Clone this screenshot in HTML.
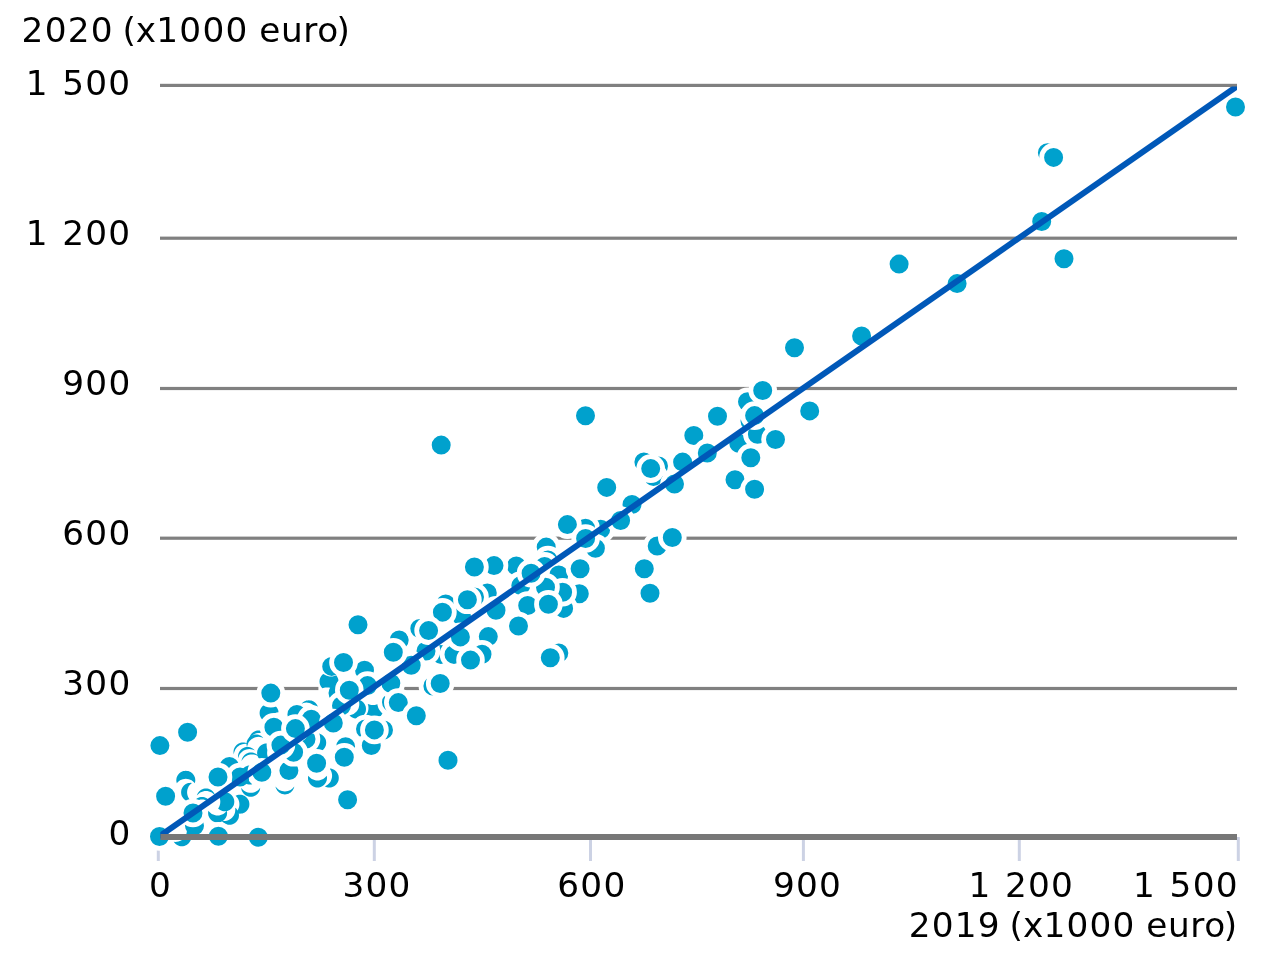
<!DOCTYPE html>
<html lang="nl"><head><meta charset="utf-8"><title>2020 vs 2019 (x1000 euro)</title>
<style>
html,body{margin:0;padding:0;background:#fff;}
body{width:1263px;height:955px;overflow:hidden;}
svg{display:block;}
text{font-family:"DejaVu Sans","Liberation Sans",sans-serif;font-size:34.3px;fill:#000;}
.n{letter-spacing:1.23px;word-spacing:1.4px;}
.w{letter-spacing:0.6px;}
.d circle{fill:#00A1CD;stroke:#fff;stroke-width:4.8;}
.d circle.e{fill:#fff;stroke:none;}
.d circle.r{fill:none;}
.d path{fill:#00A1CD;}
</style></head><body>
<svg width="1263" height="955" viewBox="0 0 1263 955">
<rect width="1263" height="955" fill="#fff"/>
<rect x="160" y="83.8" width="1077.0" height="3.2" fill="#808080"/>
<rect x="160" y="236.6" width="1077.0" height="3.2" fill="#808080"/>
<rect x="160" y="386.9" width="1077.0" height="3.2" fill="#808080"/>
<rect x="160" y="536.6" width="1077.0" height="3.2" fill="#808080"/>
<rect x="160" y="686.9" width="158.4" height="3.2" fill="#808080"/>
<rect x="346" y="686.9" width="891.0" height="3.2" fill="#808080"/>
<rect x="156.8" y="837" width="3" height="24" fill="#CCD2E4"/>
<rect x="372.8" y="837" width="3" height="24" fill="#CCD2E4"/>
<rect x="589.0" y="837" width="3" height="24" fill="#CCD2E4"/>
<rect x="801.9" y="837" width="3" height="24" fill="#CCD2E4"/>
<rect x="1017.8" y="837" width="3" height="24" fill="#CCD2E4"/>
<rect x="1236.8" y="837" width="3" height="24" fill="#CCD2E4"/>
<g class="d">
<path d="M195.2,779.1 195.0,777.8 194.6,776.7 194.0,775.5 193.3,774.5 192.5,773.6 191.6,772.8 190.6,772.1 189.4,771.5 188.3,771.1 187.0,770.9 185.8,770.8 184.6,770.9 183.3,771.1 182.2,771.5 181.1,772.1 180.0,772.8 179.1,773.6 178.3,774.5 177.6,775.5 177.0,776.7 176.6,777.8 176.4,779.1 176.3,780.3 176.4,781.5 176.8,783.2 177.7,782.2 178.8,781.2 180.1,780.3 181.4,779.7 182.8,779.2 184.3,778.9 185.8,778.8 187.3,778.9 188.8,779.2 190.2,779.7 191.6,780.3 192.8,781.2 193.9,782.2 194.8,783.2 195.2,781.5 195.3,780.3Z"/><path d="M192.0,782.9 190.6,782.8 189.4,782.9 188.1,783.1 187.0,783.5 185.8,784.1 184.8,784.8 183.9,785.6 183.1,786.5 182.4,787.5 181.8,788.7 181.4,789.8 181.2,791.1 181.1,792.3 181.2,793.5 181.4,794.8 181.8,795.9 182.4,797.0 183.1,798.1 183.9,799.0 184.8,799.8 185.8,800.5 187.0,801.1 188.1,801.5 189.4,801.7 190.6,801.8 192.0,801.7 190.5,800.4 189.5,799.3 188.6,798.0 188.0,796.7 187.5,795.3 187.2,793.8 187.1,792.3 187.2,790.8 187.5,789.3 188.0,787.9 188.6,786.5 189.5,785.3 190.5,784.2Z"/><path d="M249.3,803.0 249.1,801.7 248.7,800.6 248.1,799.5 247.4,798.4 246.6,797.5 245.7,796.7 244.7,796.0 243.5,795.4 242.4,795.0 241.1,794.8 239.9,794.7 238.7,794.8 237.4,795.0 235.6,795.7 237.0,797.2 237.9,798.5 238.5,799.8 239.0,801.2 239.3,802.7 239.4,804.2 239.3,805.7 239.0,807.2 238.5,808.6 237.9,810.0 237.0,811.2 235.6,812.7 237.4,813.4 238.7,813.6 239.9,813.7 241.1,813.6 242.4,813.4 243.5,813.0 244.7,812.4 245.7,811.7 246.6,810.9 247.4,810.0 248.1,809.0 248.7,807.8 249.1,806.7 249.3,805.4 249.4,804.2Z"/><path d="M238.9,814.1 238.7,812.8 238.3,811.7 237.7,810.5 237.0,809.5 236.2,808.6 235.2,807.7 235.3,809.6 235.2,811.1 235.0,812.6 234.5,814.0 233.8,815.4 233.0,816.6 232.0,817.8 230.8,818.8 229.6,819.6 228.2,820.3 226.8,820.8 225.3,821.0 223.8,821.1 221.9,821.0 222.8,822.0 223.7,822.8 224.8,823.5 225.9,824.1 227.0,824.5 228.3,824.7 229.5,824.8 230.7,824.7 232.0,824.5 233.1,824.1 234.2,823.5 235.3,822.8 236.2,822.0 237.0,821.1 237.7,820.0 238.3,818.9 238.7,817.8 238.9,816.5 239.0,815.3Z"/><path d="M227.0,811.8 226.8,810.8 225.7,812.1 224.6,813.1 223.3,814.0 222.0,814.6 220.6,815.1 219.1,815.4 217.6,815.5 216.1,815.4 214.6,815.1 213.2,814.6 211.8,814.0 210.6,813.1 209.5,812.1 208.4,810.8 208.2,811.8 208.1,813.0 208.2,814.2 208.4,815.5 208.8,816.6 209.4,817.8 210.1,818.8 210.9,819.7 211.8,820.5 212.8,821.2 214.0,821.8 215.1,822.2 216.4,822.4 217.6,822.5 218.8,822.4 220.1,822.2 221.2,821.8 222.3,821.2 223.4,820.5 224.3,819.7 225.1,818.8 225.8,817.8 226.4,816.6 226.8,815.5 227.0,814.2 227.1,813.0Z"/><path d="M234.2,800.6 234.0,799.3 233.6,798.2 233.0,797.0 232.3,796.0 231.5,795.1 230.6,794.3 229.6,793.6 228.4,793.0 227.3,792.6 226.0,792.4 224.8,792.3 223.6,792.4 222.3,792.6 221.2,793.0 220.1,793.6 219.0,794.3 218.1,795.1 218.8,796.0 219.4,797.4 219.9,798.8 220.2,800.3 220.3,801.8 220.2,803.3 219.9,804.8 219.4,806.2 218.8,807.5 218.1,808.5 219.0,809.3 220.1,810.0 221.2,810.6 222.3,811.0 223.6,811.2 224.8,811.3 226.0,811.2 227.3,811.0 228.4,810.6 229.6,810.0 230.6,809.3 231.5,808.5 232.3,807.6 233.0,806.5 233.6,805.4 234.0,804.3 234.2,803.0 234.3,801.8Z"/><path d="M215.2,795.5 214.8,794.4 214.2,793.2 213.5,792.2 212.7,791.3 211.8,790.5 210.8,789.8 209.6,789.2 208.5,788.8 207.2,788.6 206.0,788.5 204.8,788.6 203.5,788.8 202.4,789.2 201.2,789.8 200.2,790.5 199.3,791.3 198.5,792.2 197.8,793.2 197.2,794.4 196.8,795.6 197.9,794.4 199.0,793.4 200.2,792.5 201.6,791.9 203.0,791.4 204.5,791.1 206.0,791.0 207.5,791.1 209.0,791.4 210.4,791.9 211.8,792.5 213.0,793.4 214.1,794.4Z"/><path d="M211.2,804.0 210.8,802.9 210.2,801.8 209.5,800.7 208.7,799.8 207.8,799.0 206.8,798.3 205.6,797.7 204.5,797.3 203.2,797.1 202.0,797.0 200.8,797.1 199.5,797.3 198.4,797.7 197.2,798.3 196.2,799.0 195.3,799.8 194.5,800.7 193.8,801.8 193.2,802.9 192.8,804.1 193.9,802.9 195.0,801.9 196.2,801.0 197.6,800.4 199.0,799.9 200.5,799.6 202.0,799.5 203.5,799.6 205.0,799.9 206.4,800.4 207.8,801.0 209.0,801.9 210.1,802.9Z"/><circle cx="194.5" cy="825.7" r="11.9"/><path d="M191.2,835.6 191.0,834.3 190.6,833.2 190.0,832.0 189.3,831.0 188.5,830.1 187.6,829.3 186.8,828.7 186.9,830.4 186.8,831.9 186.5,833.4 186.1,834.8 185.4,836.2 184.6,837.4 183.6,838.6 182.4,839.6 181.2,840.4 179.8,841.1 178.4,841.5 176.9,841.8 175.4,841.9 173.7,841.8 174.3,842.6 175.1,843.5 176.0,844.3 177.1,845.0 178.2,845.6 179.3,846.0 180.6,846.2 181.8,846.3 183.0,846.2 184.3,846.0 185.4,845.6 186.6,845.0 187.6,844.3 188.5,843.5 189.3,842.6 190.0,841.5 190.6,840.4 191.0,839.3 191.2,838.0 191.3,836.8Z"/><circle cx="229.4" cy="766.4" r="11.9"/><circle cx="240.0" cy="777.0" r="11.9"/><path d="M247.8,743.8 246.6,743.2 245.5,742.8 244.2,742.6 243.0,742.5 241.8,742.6 240.5,742.8 239.4,743.2 238.2,743.8 237.2,744.5 236.3,745.3 235.5,746.2 234.8,747.2 234.2,748.4 233.8,749.5 233.6,750.8 233.5,752.0 233.6,753.2 233.8,754.5 233.9,753.8 234.2,752.3 234.7,750.9 235.3,749.5 236.2,748.3 237.2,747.1 238.3,746.2 239.5,745.3 240.9,744.7 242.3,744.2 243.8,743.9 245.3,743.8 246.8,743.9 248.4,744.2Z"/><path d="M254.2,749.8 253.3,749.0 252.2,748.3 251.1,747.7 250.0,747.3 248.7,747.1 247.5,747.0 246.3,747.1 245.0,747.3 243.9,747.7 242.8,748.3 241.7,749.0 240.8,749.8 240.0,750.7 239.3,751.8 238.7,752.9 238.3,754.0 238.1,755.3 238.0,756.5 238.2,758.2 238.8,756.2 239.4,754.8 240.3,753.6 241.3,752.4 242.4,751.5 243.7,750.6 245.0,750.0 246.4,749.5 247.9,749.2 249.4,749.1 250.9,749.2 252.4,749.5 253.8,750.0 254.8,750.4Z"/><path d="M258.8,756.6 257.7,755.3 256.8,754.5 255.8,753.8 254.6,753.2 253.5,752.8 252.2,752.6 251.0,752.5 249.8,752.6 248.5,752.8 247.4,753.2 246.2,753.8 245.2,754.5 244.3,755.3 243.5,756.2 242.8,757.2 242.2,758.4 241.8,759.5 241.6,761.2 242.1,760.1 242.9,758.9 243.9,757.7 245.0,756.7 246.3,755.9 247.6,755.2 249.1,754.8 250.5,754.5 252.0,754.4 253.5,754.5 255.0,754.8 256.4,755.2 257.8,755.9Z"/><path d="M251.2,765.6 250.0,765.5 248.8,765.6 247.5,765.8 246.4,766.2 245.2,766.8 244.2,767.5 243.3,768.3 242.5,769.2 241.8,770.2 241.2,771.4 240.8,772.5 240.6,773.8 240.5,775.0 240.6,776.2 240.8,777.5 241.2,778.6 241.8,779.8 242.5,780.8 243.3,781.7 244.2,782.5 245.2,783.2 246.4,783.8 247.5,784.2 248.8,784.4 250.0,784.5 251.2,784.4 252.2,784.2 250.9,783.1 249.9,782.0 249.0,780.8 248.4,779.4 247.9,778.0 247.6,776.5 247.5,775.0 247.6,773.5 247.9,772.0 248.4,770.6 249.0,769.2 249.9,768.0 250.9,766.9 252.2,765.8Z"/><path d="M241.3,788.5 241.5,789.8 241.9,790.9 242.5,792.0 243.2,793.1 244.0,794.0 244.9,794.8 245.9,795.5 247.1,796.1 248.2,796.5 249.5,796.7 250.7,796.8 251.9,796.7 253.2,796.5 254.3,796.1 255.4,795.5 256.5,794.8 257.4,794.0 258.2,793.1 258.9,792.0 259.5,790.9 259.9,789.8 260.1,788.5 260.2,787.8 258.8,789.4 257.7,790.4 256.4,791.3 255.1,791.9 253.7,792.4 252.2,792.7 250.7,792.8 249.2,792.7 247.7,792.4 246.3,791.9 244.9,791.3 243.7,790.4 242.6,789.4 241.2,787.8Z"/><path d="M326.9,776.8 326.7,775.8 325.6,777.1 324.5,778.1 323.2,779.0 321.9,779.6 320.5,780.1 319.0,780.4 317.5,780.5 316.0,780.4 314.5,780.1 313.1,779.6 311.8,779.0 310.5,778.1 309.4,777.1 308.3,775.8 308.1,776.8 308.0,778.0 308.1,779.2 308.3,780.5 308.7,781.6 309.3,782.8 310.0,783.8 310.8,784.7 311.7,785.5 312.8,786.2 313.9,786.8 315.0,787.2 316.3,787.4 317.5,787.5 318.7,787.4 320.0,787.2 321.1,786.8 322.2,786.2 323.3,785.5 324.2,784.7 325.0,783.8 325.7,782.8 326.3,781.6 326.7,780.5 326.9,779.2 327.0,778.0Z"/><path d="M338.7,776.8 338.5,775.5 338.1,774.4 337.5,773.2 336.8,772.2 336.0,771.3 335.1,770.5 334.1,769.8 332.9,769.2 331.8,768.8 330.5,768.6 329.6,768.5 330.6,769.9 331.2,771.3 331.7,772.7 332.0,774.2 332.1,775.7 332.0,777.2 331.7,778.6 331.2,780.1 330.6,781.4 329.7,782.7 328.7,783.8 327.6,784.8 326.4,785.6 324.8,786.4 325.7,786.8 326.8,787.2 328.1,787.4 329.3,787.5 330.5,787.4 331.8,787.2 332.9,786.8 334.1,786.2 335.1,785.5 336.0,784.7 336.8,783.8 337.5,782.8 338.1,781.6 338.5,780.5 338.7,779.2 338.8,778.0Z"/><path d="M326.1,741.5 325.9,740.2 325.5,739.1 324.9,738.0 324.2,736.9 323.4,736.0 322.5,735.2 321.4,734.5 320.3,733.9 319.2,733.5 317.9,733.3 317.1,733.2 317.9,734.9 318.4,736.3 318.7,737.8 318.8,739.3 318.7,740.8 318.4,742.3 317.9,743.7 317.3,745.0 316.4,746.3 315.4,747.4 314.3,748.4 313.1,749.2 311.7,749.9 310.9,750.2 311.9,750.9 313.1,751.5 314.2,751.9 315.5,752.1 316.7,752.2 317.9,752.1 319.2,751.9 320.3,751.5 321.4,750.9 322.5,750.2 323.4,749.4 324.2,748.5 324.9,747.5 325.5,746.3 325.9,745.2 326.1,743.9 326.2,742.7Z"/><circle cx="306.0" cy="739.0" r="11.9"/><path d="M270.9,744.5 269.1,743.8 267.8,743.6 266.6,743.5 265.4,743.6 264.1,743.8 263.0,744.2 261.9,744.8 260.8,745.5 259.9,746.3 259.1,747.2 258.4,748.2 257.8,749.4 257.4,750.5 257.2,751.8 257.1,753.0 257.2,754.2 257.4,755.5 257.8,756.6 258.4,757.8 259.1,758.8 259.9,759.7 260.8,760.5 261.9,761.2 263.0,761.8 264.1,762.2 265.4,762.4 266.6,762.5 267.8,762.4 269.1,762.2 270.9,761.5 269.5,760.0 268.6,758.8 268.0,757.4 267.5,756.0 267.2,754.5 267.1,753.0 267.2,751.5 267.5,750.0 268.0,748.6 268.6,747.2 269.5,746.0Z"/><path d="M262.7,737.3 261.8,736.5 260.8,735.8 259.6,735.2 258.5,734.8 257.2,734.6 256.0,734.5 254.8,734.6 253.5,734.8 252.4,735.2 251.2,735.8 250.2,736.5 249.3,737.3 248.5,738.2 247.8,739.2 247.2,740.4 246.8,741.5 246.6,742.8 246.5,744.0 246.6,745.2 246.8,746.5 247.1,747.2 247.4,745.4 247.9,743.9 248.5,742.6 249.4,741.3 250.4,740.2 251.5,739.2 252.8,738.4 254.1,737.7 255.5,737.2 257.0,736.9 258.5,736.8 260.0,736.9 261.5,737.2 263.2,737.9Z"/><path d="M266.8,735.2 266.1,734.2 265.3,733.3 264.4,732.5 263.4,731.8 262.2,731.2 261.1,730.8 259.8,730.6 258.6,730.5 257.4,730.6 256.1,730.8 255.0,731.2 253.9,731.8 252.8,732.5 251.9,733.3 251.1,734.2 250.4,735.2 249.8,736.4 249.4,737.5 249.2,739.2 250.3,737.4 251.2,736.3 252.4,735.3 253.6,734.5 255.0,733.8 256.4,733.3 257.9,733.0 259.4,732.9 260.9,733.0 262.4,733.3 263.8,733.8 265.1,734.5 266.4,735.3 267.2,736.0Z"/><path d="M275.7,787.4 276.1,788.5 276.7,789.6 277.4,790.7 278.2,791.6 279.1,792.4 280.1,793.1 281.3,793.7 282.4,794.1 283.7,794.3 284.9,794.4 286.1,794.3 287.4,794.1 288.5,793.7 289.6,793.1 290.7,792.4 291.6,791.6 292.4,790.7 293.1,789.6 293.7,788.5 294.1,787.4 294.2,786.6 293.0,788.0 291.9,789.0 290.6,789.9 289.3,790.5 287.9,791.0 286.4,791.3 284.9,791.4 283.4,791.3 281.9,791.0 280.5,790.5 279.1,789.9 277.9,789.0 276.8,788.0 275.6,786.6Z"/><path d="M278.5,712.2 278.3,710.5 277.9,709.4 277.3,708.2 276.6,707.2 275.8,706.3 274.9,705.5 273.9,704.8 272.7,704.2 271.6,703.8 270.3,703.6 269.1,703.5 267.9,703.6 266.6,703.8 265.5,704.2 264.4,704.8 263.3,705.5 262.4,706.3 261.6,707.2 260.9,708.2 260.3,709.4 259.9,710.5 259.7,711.8 259.6,713.0 259.7,714.2 259.9,715.5 260.3,716.6 260.9,717.8 261.6,718.8 262.4,719.7 263.3,720.5 264.4,721.2 265.5,721.8 266.6,722.2 268.3,722.4 268.6,720.6 269.1,719.2 269.7,717.9 270.6,716.6 271.6,715.5 272.7,714.5 274.0,713.6 275.3,713.0 276.7,712.5Z"/><circle cx="296.9" cy="714.5" r="11.9"/><path d="M318.3,708.6 318.1,707.3 317.7,706.2 317.1,705.0 316.4,704.0 315.6,703.1 314.7,702.3 313.6,701.6 312.5,701.0 311.4,700.6 310.1,700.4 308.9,700.3 307.7,700.4 306.4,700.6 305.3,701.0 304.1,701.6 303.1,702.3 302.2,703.1 301.7,703.7 303.4,703.0 304.9,702.7 306.4,702.6 307.9,702.7 309.4,703.0 310.8,703.5 312.1,704.2 313.4,705.0 314.5,706.0 315.5,707.1 316.4,708.4 317.0,709.7 317.5,711.2 317.8,713.0 318.1,712.3 318.3,711.0 318.4,709.8Z"/><circle cx="331.7" cy="666.4" r="11.9"/><circle cx="338.0" cy="693.0" r="11.9"/><path d="M337.8,677.9 337.2,676.8 336.2,675.3 334.2,676.1 332.6,676.4 331.0,676.5 329.4,676.4 327.8,676.1 326.2,675.5 324.8,674.8 323.3,673.9 322.3,674.8 321.5,675.7 320.8,676.8 320.2,677.9 319.8,679.0 319.6,680.3 319.5,681.5 319.6,682.7 319.8,684.0 320.2,685.1 320.8,686.2 321.5,687.3 322.4,688.3 323.2,688.0 325.1,687.6 327.0,687.5 328.9,687.6 330.8,688.0 332.5,688.6 334.2,689.4 335.1,688.8 335.5,686.5 336.1,684.7 336.9,683.1 338.0,681.5 338.5,680.9 338.2,679.0Z"/><circle cx="341.5" cy="705.8" r="11.9"/><path d="M365.9,707.8 365.7,706.5 365.3,705.4 364.7,704.2 364.0,703.2 363.2,702.3 362.3,701.5 361.2,700.8 360.1,700.2 358.5,699.7 358.9,701.0 359.2,702.5 359.3,704.0 359.2,705.5 358.9,707.0 358.5,708.4 357.8,709.8 357.0,711.0 356.0,712.1 354.8,713.1 353.6,714.0 352.2,714.6 350.8,715.1 349.5,715.4 350.7,716.5 351.8,717.2 352.9,717.8 354.0,718.2 355.3,718.4 356.5,718.5 357.7,718.4 359.0,718.2 360.1,717.8 361.2,717.2 362.3,716.5 363.2,715.7 364.0,714.8 364.7,713.8 365.3,712.6 365.7,711.5 365.9,710.2 366.0,709.0Z"/><path d="M382.8,707.3 382.4,706.2 381.8,705.0 381.1,704.0 380.1,702.9 378.2,704.0 376.5,704.5 374.8,704.9 373.0,705.0 371.2,704.9 369.5,704.5 367.7,703.9 368.1,705.0 368.4,706.5 368.5,708.0 368.4,709.5 368.1,711.0 367.6,712.4 367.0,713.8 365.9,715.3 366.9,716.5 367.8,717.3 368.9,718.0 370.0,718.6 371.1,719.0 372.4,719.2 373.6,719.3 374.8,719.2 376.1,719.0 377.2,718.6 378.4,718.0 379.4,717.3 380.3,716.5 381.1,715.6 381.8,714.5 382.4,713.4 382.8,712.3 383.0,711.0 383.1,709.8 383.0,708.6Z"/><circle cx="391.5" cy="702.3" r="11.9"/><circle cx="383.5" cy="730.0" r="11.9"/><circle cx="365.5" cy="729.0" r="11.9"/><circle cx="371.3" cy="745.5" r="11.9"/><circle cx="345.6" cy="746.8" r="11.9"/><circle cx="364.5" cy="670.3" r="11.9"/><circle cx="390.8" cy="683.3" r="11.9"/><circle cx="399.2" cy="640.0" r="11.9"/><circle cx="1047.4" cy="152.7" r="11.9"/><circle cx="747.5" cy="401.7" r="11.9"/><circle cx="750.0" cy="421.0" r="11.9"/><circle cx="738.8" cy="443.4" r="11.9"/><circle cx="757.4" cy="434.3" r="11.9"/><circle cx="643.9" cy="461.9" r="11.9"/><circle cx="658.5" cy="466.0" r="11.9"/><circle cx="653.5" cy="476.5" r="11.9"/><circle cx="600.7" cy="529.2" r="11.9"/><circle cx="585.5" cy="528.2" r="11.9"/><circle cx="595.4" cy="548.3" r="11.9"/><circle cx="657.2" cy="546.0" r="11.9"/><circle cx="546.2" cy="547.1" r="11.9"/><circle cx="548.0" cy="560.0" r="11.9"/><circle cx="544.6" cy="566.4" r="11.9"/><circle cx="516.3" cy="566.0" r="11.9"/><circle cx="494.0" cy="565.6" r="11.9"/><circle cx="558.8" cy="575.0" r="11.9"/><circle cx="520.8" cy="585.6" r="11.9"/><circle cx="579.3" cy="593.7" r="11.9"/><circle cx="563.6" cy="608.4" r="11.9"/><circle cx="562.6" cy="592.2" r="11.9"/><circle cx="527.7" cy="605.5" r="11.9"/><circle cx="487.3" cy="593.0" r="11.9"/><circle cx="474.5" cy="597.0" r="11.9"/><circle cx="558.8" cy="653.0" r="11.9"/><circle cx="445.7" cy="604.0" r="11.9"/><circle cx="461.5" cy="616.0" r="11.9"/><circle cx="419.8" cy="628.5" r="11.9"/><circle cx="440.9" cy="654.4" r="11.9"/><circle cx="454.0" cy="654.4" r="11.9"/><circle cx="426.0" cy="651.0" r="11.9"/><circle cx="432.9" cy="686.0" r="11.9"/>
<circle cx="273.9" cy="727.3" r="11.9"/><circle cx="288.9" cy="770.6" r="11.9"/><circle cx="261.8" cy="772.2" r="11.9"/><circle cx="293.6" cy="752.3" r="11.9"/><circle cx="280.9" cy="745.1" r="11.9"/><circle cx="311.3" cy="719.3" r="11.9"/><circle cx="333.3" cy="723.0" r="11.9"/><circle cx="367.5" cy="685.6" r="11.9"/><circle cx="545.5" cy="587.3" r="11.9"/><circle cx="460.4" cy="636.9" r="11.9"/><circle cx="411.2" cy="665.3" r="11.9"/><circle cx="488.3" cy="636.6" r="11.9"/><circle cx="482.0" cy="654.3" r="11.9"/>
<circle cx="1235.5" cy="107.0" r="11.9"/><circle cx="1053.6" cy="157.4" r="11.9"/><circle cx="1041.7" cy="221.5" r="11.9"/><circle cx="1064.0" cy="258.8" r="11.9"/><circle cx="899.1" cy="264.1" r="11.9"/><circle cx="957.1" cy="283.6" r="11.9"/><circle cx="861.6" cy="336.0" r="11.9"/><circle cx="794.5" cy="347.7" r="11.9"/><circle cx="754.6" cy="415.6" r="11.9"/><circle cx="762.7" cy="390.5" r="11.9"/><circle cx="809.7" cy="410.9" r="11.9"/><circle cx="717.5" cy="416.3" r="11.9"/><circle cx="693.8" cy="435.5" r="11.9"/><circle cx="775.5" cy="439.5" r="11.9"/><circle cx="707.3" cy="453.0" r="11.9"/><circle cx="750.8" cy="457.8" r="11.9"/><circle cx="682.6" cy="462.1" r="11.9"/><circle cx="650.7" cy="468.6" r="11.9"/><circle cx="674.5" cy="484.0" r="11.9"/><circle cx="735.0" cy="479.8" r="11.9"/><circle cx="754.6" cy="489.3" r="11.9"/><circle cx="585.5" cy="415.7" r="11.9"/><circle cx="441.2" cy="445.1" r="11.9"/><circle cx="606.7" cy="487.4" r="11.9"/><circle cx="632.0" cy="504.5" r="11.9"/><circle cx="620.6" cy="520.5" r="11.9"/><circle cx="567.4" cy="524.6" r="11.9"/><circle cx="585.6" cy="538.5" r="11.9"/><circle cx="672.3" cy="537.5" r="11.9"/><circle cx="644.3" cy="568.8" r="11.9"/><circle cx="650.0" cy="593.2" r="11.9"/><circle cx="531.1" cy="573.2" r="11.9"/><circle cx="474.4" cy="567.0" r="11.9"/><circle cx="580.1" cy="568.8" r="11.9"/><circle cx="548.4" cy="604.2" r="11.9"/><circle cx="467.4" cy="599.8" r="11.9"/><circle cx="496.0" cy="610.2" r="11.9"/><circle cx="518.5" cy="626.0" r="11.9"/><circle cx="470.5" cy="660.1" r="11.9"/><circle cx="550.3" cy="657.8" r="11.9"/><circle cx="442.4" cy="612.3" r="11.9"/><circle cx="428.6" cy="630.6" r="11.9"/><circle cx="393.3" cy="652.3" r="11.9"/><circle cx="358.0" cy="624.8" r="11.9"/><circle cx="343.5" cy="662.5" r="11.9"/><circle cx="349.3" cy="690.2" r="11.9"/><circle cx="440.2" cy="683.5" r="11.9"/><circle cx="398.3" cy="702.6" r="11.9"/><circle cx="416.3" cy="715.8" r="11.9"/><circle cx="374.4" cy="729.9" r="11.9"/><circle cx="344.3" cy="757.3" r="11.9"/><circle cx="270.8" cy="693.1" r="11.9"/><circle cx="295.4" cy="728.6" r="11.9"/><circle cx="316.6" cy="763.3" r="11.9"/><circle cx="448.0" cy="760.2" r="11.9"/><circle cx="347.6" cy="799.8" r="11.9"/><circle cx="218.0" cy="777.0" r="11.9"/><circle cx="165.6" cy="796.3" r="11.9"/><circle cx="193.0" cy="813.0" r="11.9"/><circle cx="218.4" cy="836.2" r="11.9"/><circle cx="258.3" cy="837.2" r="11.9"/><circle cx="159.5" cy="836.5" r="11.9"/><circle cx="159.9" cy="745.6" r="11.9"/><circle cx="187.6" cy="732.3" r="11.9"/>
</g>
<clipPath id="pc"><rect x="160.3" y="86.6" width="1076.7" height="752"/></clipPath>
<line x1="158.3" y1="837" x2="1238.3" y2="85.4" stroke="#0058B8" stroke-width="6" clip-path="url(#pc)"/>
<rect x="160.5" y="834" width="1076.5" height="6" fill="#777"/>
<text y="41.6"><tspan x="21.6" class="n">2020 </tspan><tspan x="122.4">(x</tspan><tspan x="156.3" class="n">1000 </tspan><tspan x="259.2" class="w">euro</tspan><tspan x="336.6">)</tspan></text>
<text y="936.6"><tspan x="908.7" class="n">2019 </tspan><tspan x="1009.5">(x</tspan><tspan x="1043.4" class="n">1000 </tspan><tspan x="1146.3" class="w">euro</tspan><tspan x="1223.7">)</tspan></text>
<text x="25.7" y="95.4" class="n">1 500</text>
<text x="25.7" y="245.4" class="n">1 200</text>
<text x="62.3" y="395.4" class="n">900</text>
<text x="62.3" y="545.4" class="n">600</text>
<text x="62.3" y="695.4" class="n">300</text>
<text x="108.4" y="845.4" class="n">0</text>
<text x="149.0" y="896.8" class="n">0</text>
<text x="342.4" y="896.8" class="n">300</text>
<text x="557.3" y="896.8" class="n">600</text>
<text x="772.9" y="896.8" class="n">900</text>
<text x="968.4" y="896.8" class="n">1 200</text>
<text x="1133.0" y="896.8" class="n">1 500</text>
</svg></body></html>
